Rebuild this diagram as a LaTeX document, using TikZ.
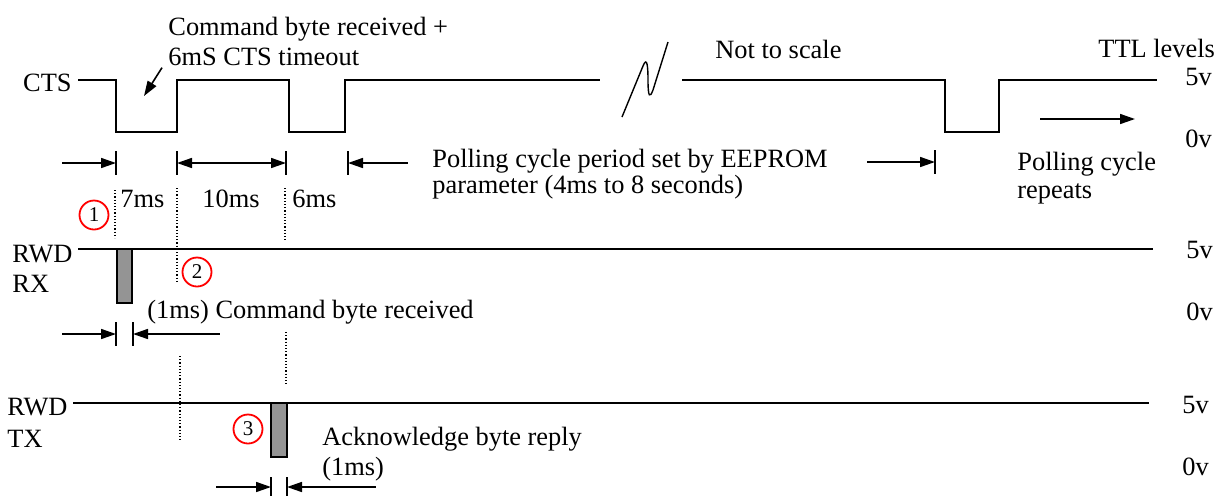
\documentclass[tikz,border=0pt]{standalone}
\usepackage{fontspec}
\setmainfont{Liberation Serif}
\usetikzlibrary{arrows.meta}

\begin{document}
\begin{tikzpicture}[x=0.5pt,y=-0.5pt,>={Triangle[length=7.5pt,width=5pt]},
  wave/.style={line width=0.9pt},
  dim/.style={line width=0.8pt},
  guide/.style={densely dotted,line width=0.6pt},
  lbl/.style={font=\fontsize{13.2}{15}\selectfont,inner sep=0pt},
  num/.style={circle,draw=red,line width=0.9pt,inner sep=0pt,minimum size=14.5pt,font=\fontsize{10.5}{11}\selectfont},
  byte/.style={draw=black,fill=black!42,line width=0.8pt}]
\useasboundingbox (0,0) rectangle (1223,495);

%CTS
\node[lbl,anchor=base east] (cts) at (72,91) {CTS};
\draw[wave] (78,80) -| (116,132) -| (177,80) -| (289,132) -| (345,80) -- (600,80);
\draw[wave] (682,80) -| (945,132) -| (999,80) -- (1157,80);

%break
\draw[line width=0.7pt] (622,117) -- (643,66) .. controls (647,56) and (648,66) .. (648,80)
  .. controls (648,98) and (650,98) .. (653,90) -- (668,42);
\node[lbl,anchor=base west] (scale) at (715,58) {Not to scale};

%command label
\node[lbl,anchor=base west] (cmdA) at (168,35) {Command byte received +};
\node[lbl,anchor=base west] (cmdB) at (168,65) {6mS CTS timeout};
\coordinate (cmdtip) at (144,96);
\draw[dim,->] ([xshift=-3pt,yshift=-1pt]cmdB.south west) -- (cmdtip);

%levels
\node[lbl,anchor=base west] (ttl) at (1098,57) {TTL levels};
\node[lbl,anchor=base west] (hiA) at (1185,85) {5v};
\node[lbl,anchor=base west] (loA) at (1185,147) {0v};

%repeat
\coordinate (rep) at (1135,119);
\draw[dim,->] (rep) ++(-95,0) -- (rep);
\node[lbl,anchor=base west] (repA) at (1017,170) {Polling cycle};
\node[lbl,anchor=base west] (repB) at (1017,198) {repeats};

%timing marks
\coordinate (m1) at (116,163);
\coordinate (m2) at (177,163);
\coordinate (m3) at (286,163);
\coordinate (m4) at (348,163);
\coordinate (m5) at (935,162);
\draw[dim] (m1) ++(0,-12) -- ++(0,24);
\draw[dim] (m2) ++(0,-12) -- ++(0,24);
\draw[dim] (m3) ++(0,-12) -- ++(0,24);
\draw[dim] (m4) ++(0,-12) -- ++(0,24);
\draw[dim] (m5) ++(0,-12) -- ++(0,24);
\draw[dim,<-] (m1) -- ++(-54,0);
\draw[dim,<->] (m2) -- (m3);
\draw[dim,<-] (m4) -- ++(60,0);
\draw[dim,<-] (m5) -- ++(-68,0);
\node[lbl,anchor=base west] (pollA) at (432,167) {Polling cycle period set by EEPROM};
\node[lbl,anchor=base west] (pollB) at (432,193) {parameter (4ms to 8 seconds)};

%periods
\node[lbl,anchor=base west] (t7) at (120,207) {7ms};
\node[lbl,anchor=base west] (t10) at (202,207) {10ms};
\node[lbl,anchor=base west] (t6) at (292,207) {6ms};
\draw[guide] (115,190) -- (115,238);
\draw[guide] (177,188) -- (177,282);
\draw[guide] (285,188) -- (285,241);
\node[num] (n1) at (94,215) {1};

%RWD RX
\node[lbl,anchor=base west] (rxA) at (12,262) {RWD};
\node[lbl,anchor=base west] (rxB) at (12,292) {RX};
\draw[wave] (78,249) -- (1153,249);
\draw[byte] (117,249) rectangle (132,303);
\node[num] (n2) at (197,272) {2};
\node[lbl,anchor=base west] (rxmsg) at (147,318) {(1ms) Command byte received};
\node[lbl,anchor=base west] (hiB) at (1186,258) {5v};
\node[lbl,anchor=base west] (loB) at (1186,320) {0v};
\coordinate (r1) at (116,334);
\coordinate (r2) at (133,334);
\draw[dim] (r1) ++(0,-12) -- ++(0,24);
\draw[dim] (r2) ++(0,-12) -- ++(0,24);
\draw[dim,<-] (r1) -- ++(-54,0);
\draw[dim,<-] (r2) -- ++(87,0);
\draw[guide] (180,356) -- (180,442);
\draw[guide] (286,332) -- (286,386);

%RWD TX
\node[lbl,anchor=base west] (txA) at (7,415) {RWD};
\node[lbl,anchor=base west] (txB) at (7,447) {TX};
\draw[wave] (73,403) -- (1149,403);
\draw[byte] (271,403) rectangle (287,457);
\node[num] (n3) at (248,429) {3};
\node[lbl,anchor=base west] (txmsgA) at (322,445) {Acknowledge byte reply};
\node[lbl,anchor=base west] (txmsgB) at (322,475) {(1ms)};
\node[lbl,anchor=base west] (hiC) at (1182,413) {5v};
\node[lbl,anchor=base west] (loC) at (1182,475) {0v};
\coordinate (a1) at (271,487);
\coordinate (a2) at (287,487);
\draw[dim] (a1) ++(0,-10) -- ++(0,20);
\draw[dim] (a2) ++(0,-10) -- ++(0,20);
\draw[dim,<-] (a1) -- ++(-55,0);
\draw[dim,<-] (a2) -- ++(89,0);
\end{tikzpicture}
\end{document}
